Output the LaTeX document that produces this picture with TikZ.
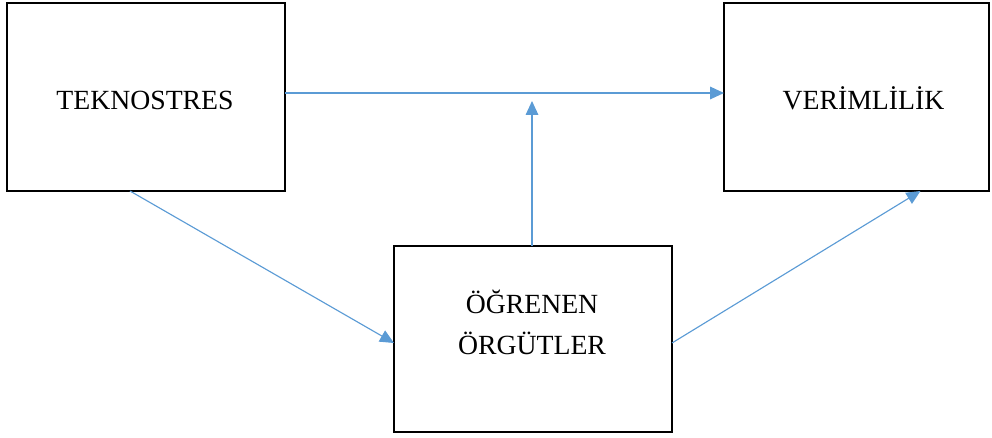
\documentclass[tikz,border=0pt]{standalone}
\usepackage{fontspec}
\setmainfont{Liberation Serif}
\usetikzlibrary{arrows.meta}
\definecolor{linkblue}{HTML}{5B9BD5}
\tikzset{
  box/.style={draw=black, line width=2.2pt, rectangle, inner sep=0pt, outer sep=0pt, fill=white},
  label/.style={font=\fontsize{20.8}{30}\selectfont, inner sep=0pt, anchor=base},
  link/.style={draw=linkblue, line width=0.85pt, -{Triangle[length=10.5pt,width=9.5pt]}}
}
\begin{document}
\begin{tikzpicture}[x=0.75pt, y=-0.75pt]
  \useasboundingbox (0,0) rectangle (992,438);
  % the three boxes
  \node[box, minimum width=208.5pt, minimum height=141pt] (tek) at (146,97) {};
  \node[box, minimum width=198.75pt, minimum height=141pt] (ver) at (856.5,97) {};
  \node[box, minimum width=208.5pt, minimum height=139.5pt] (org) at (533,339) {};
  % captions
  \node[label] (tektxt) at (145,110) {TEKNOSTRES};
  \node[label] (vertxt) at (863.5,110) {VERİMLİLİK};
  \node[label] (orgtxt1) at (532,313) {ÖĞRENEN};
  \node[label] (orgtxt2) at (532,354) {ÖRGÜTLER};
  % free end of the moderating arrow
  \coordinate (mod) at (532,101);
  % connectors
  \draw[link] ([yshift=3pt]tek.east) -- ([yshift=3pt]ver.west);
  \draw[link] (org.north -| mod) -- (mod);
  \draw[link] ([xshift=-12pt]tek.south) -- ([yshift=-3pt]org.west);
  \draw[link] ([yshift=-3pt]org.east) -- ([xshift=48pt]ver.south);
\end{tikzpicture}
\end{document}
